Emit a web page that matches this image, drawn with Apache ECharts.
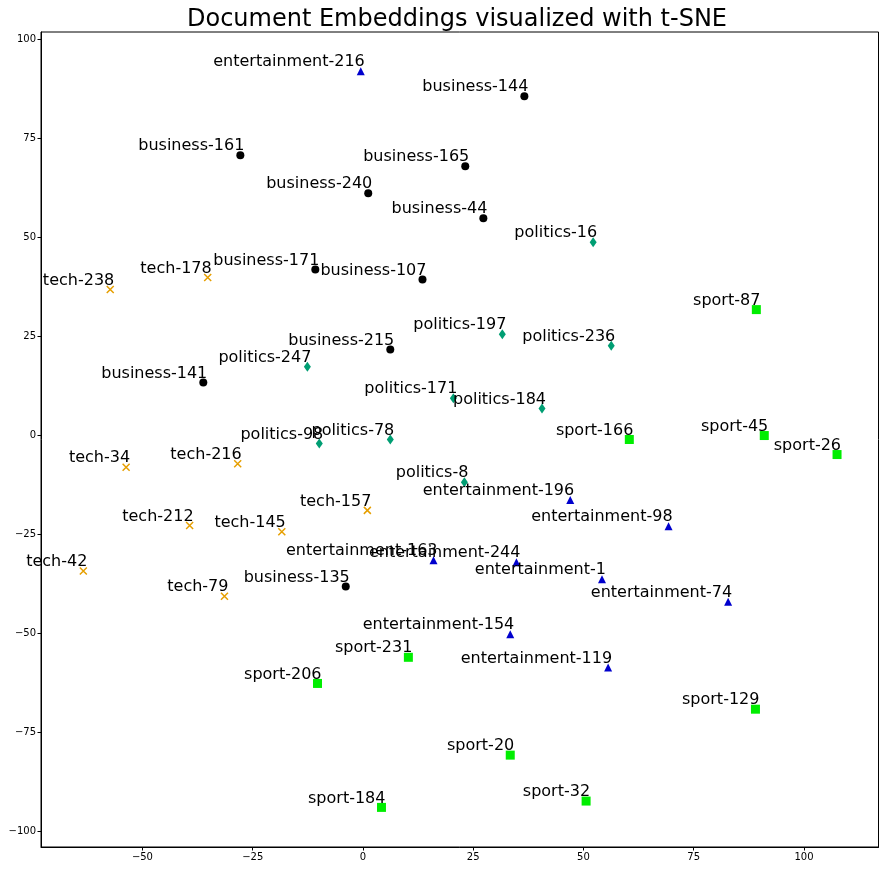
<!DOCTYPE html>
<html>
<head>
<meta charset="utf-8">
<script src="https://cdn.jsdelivr.net/npm/echarts@6/dist/echarts.min.js"></script>
<style>html,body{margin:0;padding:0;background:#fff}#c{width:889px;height:871px}</style>
</head>
<body>
<div id="c"></div>
<script>
const xTicks = [-50, -25, 0, 25, 50, 75, 100];
const yTicks = [-100, -75, -50, -25, 0, 25, 50, 75, 100];

const businessIds = [144, 161, 165, 240, 44, 171, 107, 215, 141, 135];
const businessX = [36.6, -27.8, 23.2, 1.2, 27.3, -10.8, 13.5, 6.2, -36.2, -3.9];
const businessY = [85.6, 70.7, 67.9, 61.1, 54.8, 41.8, 39.3, 21.6, 13.3, -38.2];

const techIds = [238, 178, 34, 216, 212, 145, 157, 42, 79];
const techX = [-57.3, -35.2, -53.7, -28.4, -39.3, -18.4, 1.0, -63.4, -31.4];
const techY = [36.8, 39.8, -8.1, -7.2, -22.8, -24.4, -19.0, -34.3, -40.7];

const politicsIds = [16, 197, 236, 247, 171, 184, 98, 78, 8];
const politicsX = [52.2, 31.6, 56.3, -12.6, 20.5, 40.6, -9.9, 6.2, 23.0];
const politicsY = [48.7, 25.5, 22.6, 17.3, 9.3, 6.7, -2.1, -1.1, -11.9];

const entertainmentIds = [216, 196, 98, 163, 244, 1, 74, 154, 119];
const entertainmentX = [-0.5, 47.0, 69.3, 16.0, 34.8, 54.2, 82.8, 33.4, 55.6];
const entertainmentY = [91.9, -16.4, -23.0, -31.6, -32.1, -36.4, -42.1, -50.3, -58.7];

const sportIds = [87, 166, 45, 26, 231, 206, 129, 20, 184, 32];
const sportX = [89.2, 60.4, 91.0, 107.5, 10.3, -10.3, 89.0, 33.4, 4.2, 50.6];
const sportY = [31.7, -1.1, -0.1, -4.9, -56.1, -62.7, -69.2, -80.8, -94.0, -92.4];

const FONT = '"DejaVu Sans", sans-serif';

function mk(cat, ids, xs, ys) {
  return ids.map((id, i) => ({ value: [xs[i], ys[i]], name: cat + '-' + id }));
}

const labelCfg = {
  show: true,
  position: 'inside',
  align: 'right',
  verticalAlign: 'bottom',
  offset: [4, 0],
  formatter: p => p.name,
  color: '#000',
  opacity: 1,
  fontFamily: FONT,
  fontSize: 16,
  lineHeight: 18
};

function series(cat, ids, xs, ys, symbol, size, style) {
  return {
    type: 'scatter',
    name: cat,
    data: mk(cat, ids, xs, ys),
    symbol: symbol,
    symbolSize: size,
    itemStyle: Object.assign({ opacity: 1 }, style),
    label: labelCfg,
    emphasis: { disabled: true },
    clip: false,
    silent: true
  };
}

const fmt = v => String(v).replace('-', '\u2212');

const chart = echarts.init(document.getElementById('c'), null, { renderer: 'canvas' });
chart.setOption({
  animation: false,
  backgroundColor: '#fff',
  title: {
    text: 'Document Embeddings visualized with t-SNE',
    left: 452,
    textAlign: 'center',
    top: 3,
    textStyle: { fontFamily: FONT, fontSize: 24, fontWeight: 'normal', color: '#000' }
  },
  grid: { left: 41, right: 10.5, top: 32, bottom: 24, show: true, borderColor: '#000', borderWidth: 1, backgroundColor: 'transparent' },
  xAxis: {
    type: 'value', min: -73, max: 116.9,
    splitLine: { show: false },
    axisLine: { show: true, onZero: false, lineStyle: { color: '#000', width: 1 } },
    axisTick: { show: true, customValues: xTicks, length: 3.5, lineStyle: { color: '#000' } },
    axisLabel: { customValues: xTicks, formatter: fmt, color: '#000', fontFamily: FONT, fontSize: 10, margin: 5 }
  },
  yAxis: {
    type: 'value', min: -104, max: 101.8,
    splitLine: { show: false },
    axisLine: { show: true, onZero: false, lineStyle: { color: '#000', width: 1 } },
    axisTick: { show: true, customValues: yTicks, length: 3.5, lineStyle: { color: '#000' } },
    axisLabel: { customValues: yTicks, formatter: fmt, color: '#000', fontFamily: FONT, fontSize: 10, margin: 5 }
  },
  series: [
    series('business', businessIds, businessX, businessY, 'circle', 8, { color: '#000' }),
    series('tech', techIds, techX, techY, 'path://M0,0L10,10M10,0L0,10', 7, { color: 'rgba(0,0,0,0)', borderColor: '#E69F00', borderWidth: 1.5 }),
    series('politics', politicsIds, politicsX, politicsY, 'diamond', [7, 10], { color: '#009E73' }),
    series('entertainment', entertainmentIds, entertainmentX, entertainmentY, 'triangle', 8, { color: '#0000CD' }),
    series('sport', sportIds, sportX, sportY, 'rect', 9, { color: '#00EE00' })
  ]
});
</script>
</body>
</html>
